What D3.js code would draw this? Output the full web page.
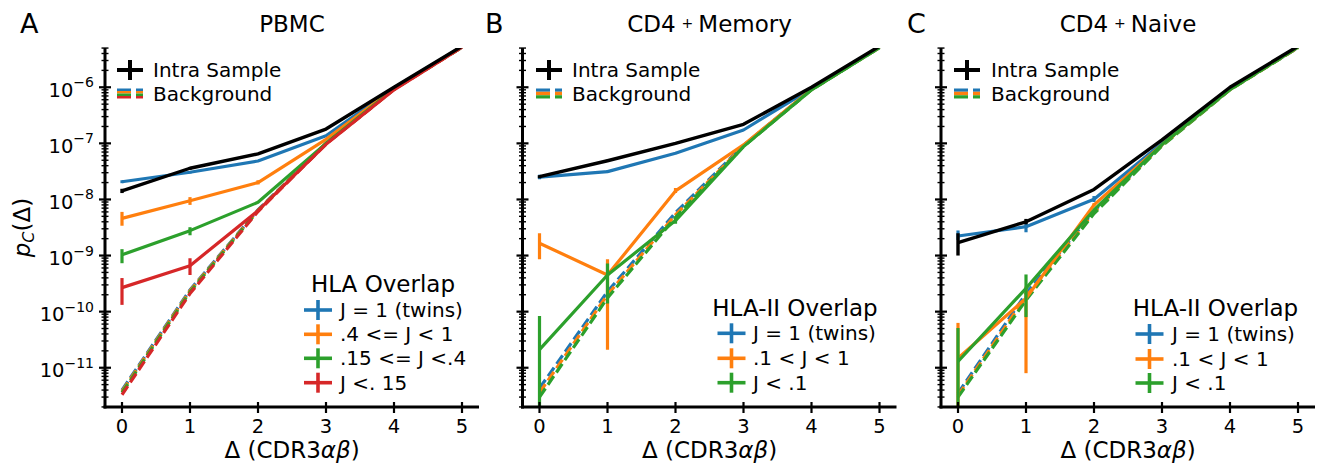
<!DOCTYPE html>
<html>
<head>
<meta charset="utf-8">
<script src="https://cdn.jsdelivr.net/npm/d3@7"></script>
<style>
  body { margin: 0; background: #fff; }
  svg { font-family: "DejaVu Sans", sans-serif; }
</style>
</head>
<body>
<div id="chart-area"></div>
<script>
// x values and y ticks
const deltas = [0, 1, 2, 3, 4, 5];
const yTickValues = [1e-11, 1e-10, 1e-9, 1e-8, 1e-7, 1e-6];
const colours = ["#1f77b4", "#ff7f0e", "#2ca02c", "#d62728"];

// A: PBMC
const pbmcLabels = ["J = 1 (twins)", ".4 <= J < 1", ".15 <= J <.4", "J <. 15"];
const pbmcIntra = [1.42e-8, 3.6e-8, 6.5e-8, 1.8e-7, 1.0e-6, 5.4e-6];
const pbmcIntraErr = [[1.3e-8, 1.55e-8], [3.4e-8, 3.8e-8], null, null, null, null];
const pbmcTwins = [2.07e-8, 3.05e-8, 4.85e-8, 1.37e-7, 9.8e-7, 5.3e-6];
const pbmcTwinsErr = [[1.95e-8, 2.2e-8], [2.9e-8, 3.2e-8], null, null, null, null];
const pbmcHigh = [4.6e-9, 9.5e-9, 2.0e-8, 1.18e-7, 9.5e-7, 5.3e-6];
const pbmcHighErr = [[3.4e-9, 6.0e-9], [8.0e-9, 1.1e-8], [1.85e-8, 2.2e-8], null, null, null];
const pbmcMid = [1.03e-9, 2.78e-9, 8.9e-9, 1.0e-7, 9.3e-7, 5.3e-6];
const pbmcMidErr = [[7.3e-10, 1.3e-9], [2.3e-9, 3.2e-9], null, null, null, null];
const pbmcLow = [2.68e-10, 6.6e-10, 6.3e-9, 9.6e-8, 9.0e-7, 5.2e-6];
const pbmcLowErr = [[1.32e-10, 3.97e-10], [4.5e-10, 8.95e-10], null, null, null, null];
const pbmcBgTwins = [4.0e-12, 2.44e-10, 6.5e-9, 1.0e-7, 9.4e-7, 5.2e-6];
const pbmcBgHigh = [3.8e-12, 2.35e-10, 6.4e-9, 1.0e-7, 9.3e-7, 5.2e-6];
const pbmcBgMid = [3.6e-12, 2.25e-10, 6.3e-9, 9.9e-8, 9.2e-7, 5.2e-6];
const pbmcBgLow = [3.3e-12, 2.1e-10, 6.1e-9, 9.7e-8, 9.1e-7, 5.2e-6];

// B: CD4+ Memory
const hla2Labels = ["J = 1 (twins)", ".1 < J < 1", "J < .1"];
const memIntra = [2.55e-8, 4.9e-8, 1.0e-7, 2.19e-7, 1.0e-6, 5.4e-6];
const memIntraErr = [[2.4e-8, 2.7e-8], [4.7e-8, 5.1e-8], null, null, null, null];
const memTwins = [2.5e-8, 3.13e-8, 6.65e-8, 1.73e-7, 9.5e-7, 5.3e-6];
const memTwinsErr = [[2.3e-8, 2.75e-8], [2.95e-8, 3.3e-8], null, null, null, null];
const memMid = [1.66e-9, 4.5e-10, 1.42e-8, 9.4e-8, 9.2e-7, 5.2e-6];
const memMidErr = [[8.6e-10, 2.5e-9], [2.1e-11, 8.6e-10], [1.3e-8, 1.6e-8], null, null, null];
const memLow = [2.1e-11, 4.5e-10, 4.2e-9, 8.75e-8, 9.0e-7, 5.1e-6];
const memLowErr = [[1e-12, 8.4e-11], [1.4e-10, 7.2e-10], [3.7e-9, 4.8e-9], null, null, null];
const memBgTwins = [4.3e-12, 2.28e-10, 5.8e-9, 9.2e-8, 9.2e-7, 5.1e-6];
const memBgMid = [3.6e-12, 2.0e-10, 5.3e-9, 9.0e-8, 9.1e-7, 5.1e-6];
const memBgLow = [3.0e-12, 1.76e-10, 4.8e-9, 8.8e-8, 9.0e-7, 5.1e-6];

// C: CD4+ Naive
const naiveIntra = [1.7e-9, 4.0e-9, 1.51e-8, 1.15e-7, 1.0e-6, 5.4e-6];
const naiveIntraErr = [[1.0e-9, 2.5e-9], [3.6e-9, 4.5e-9], null, null, null, null];
const naiveTwins = [2.23e-9, 3.27e-9, 1.01e-8, 1.0e-7, 9.5e-7, 5.3e-6];
const naiveTwinsErr = [[1.9e-9, 2.8e-9], [2.6e-9, 4.1e-9], [9e-9, 1.15e-8], null, null, null];
const naiveMid = [1.48e-11, 1.73e-10, 8.0e-9, 9.5e-8, 9.2e-7, 5.2e-6];
const naiveMidErr = [[1e-12, 6.3e-11], [8e-12, 2.8e-10], [7.5e-9, 8.6e-9], null, null, null];
const naiveLow = [1.29e-11, 2.6e-10, 6.5e-9, 9.5e-8, 9.1e-7, 5.2e-6];
const naiveLowErr = [[1e-12, 5.1e-11], [8.0e-11, 4.6e-10], null, null, null, null];
const naiveBgTwins = [3.5e-12, 2.1e-10, 6.2e-9, 9.4e-8, 9.2e-7, 5.1e-6];
const naiveBgMid = [3.2e-12, 1.85e-10, 5.9e-9, 9.2e-8, 9.1e-7, 5.1e-6];
const naiveBgLow = [3.0e-12, 1.6e-10, 5.6e-9, 9.0e-8, 9.0e-7, 5.1e-6];

const width = 1323;
const height = 466;
const plotTop = 48, plotBottom = 407;
const lw = 3.2;

const svg = d3.select("#chart-area")
    .append("svg")
    .attr("width", width)
    .attr("height", height);

const y = d3.scaleLog().domain([Math.pow(10, -11.7), Math.pow(10, -5.3)]).range([plotBottom, plotTop]);

const panels = [
    {
        id: "a", letter: "A", letterX: 20, left: 105, title: ["PBMC"],
        intra: pbmcIntra, intraErr: pbmcIntraErr,
        groups: [pbmcTwins, pbmcHigh, pbmcMid, pbmcLow],
        errs: [pbmcTwinsErr, pbmcHighErr, pbmcMidErr, pbmcLowErr],
        bgs: [pbmcBgTwins, pbmcBgHigh, pbmcBgMid, pbmcBgLow],
        labels: pbmcLabels, legendTitle: "HLA Overlap",
        legTitleX: 383, legTitleY: 292, legMarkX: 318, legTextX: 340, legRows: [310, 334.3, 358.3, 382.7],
        topMarkX: 130, topTextX: 153, yLabels: true
    },
    {
        id: "b", letter: "B", letterX: 485, left: 522.5, title: ["CD4", "+", "Memory"],
        intra: memIntra, intraErr: memIntraErr,
        groups: [memTwins, memMid, memLow],
        errs: [memTwinsErr, memMidErr, memLowErr],
        bgs: [memBgTwins, memBgMid, memBgLow],
        labels: hla2Labels, legendTitle: "HLA-II Overlap",
        legTitleX: 795, legTitleY: 316, legMarkX: 731.5, legTextX: 753, legRows: [333.3, 358.3, 382.7],
        topMarkX: 549, topTextX: 572, yLabels: false
    },
    {
        id: "c", letter: "C", letterX: 907, left: 941, title: ["CD4", "+", "Naive"],
        intra: naiveIntra, intraErr: naiveIntraErr,
        groups: [naiveTwins, naiveMid, naiveLow],
        errs: [naiveTwinsErr, naiveMidErr, naiveLowErr],
        bgs: [naiveBgTwins, naiveBgMid, naiveBgLow],
        labels: hla2Labels, legendTitle: "HLA-II Overlap",
        legTitleX: 1215.5, legTitleY: 316, legMarkX: 1149.5, legTextX: 1172, legRows: [334, 359, 383],
        topMarkX: 967, topTextX: 991, yLabels: false
    }
];

const line = (x) => d3.line()
    .x((d, i) => x(deltas[i]))
    .y((d) => y(d));

panels.forEach((p) => {
    const x = d3.scaleLinear().domain([-0.25, 5.25]).range([p.left, p.left + 374]);
    const g = svg.append("g");

    svg.append("clipPath").attr("id", "clip-" + p.id)
        .append("rect")
        .attr("x", p.left).attr("y", plotTop)
        .attr("width", 374).attr("height", plotBottom - plotTop);

    const plot = g.append("g").attr("clip-path", "url(#clip-" + p.id + ")");

    // background dashed lines
    p.bgs.forEach((bg, i) => {
        plot.append("path")
            .datum(bg)
            .attr("d", line(x))
            .attr("fill", "none")
            .attr("stroke", colours[i])
            .attr("stroke-width", lw)
            .attr("stroke-dasharray", "10.4,4.5");
    });

    // groups with error bars
    p.groups.forEach((vals, i) => {
        plot.append("path")
            .datum(vals)
            .attr("d", line(x))
            .attr("fill", "none")
            .attr("stroke", colours[i])
            .attr("stroke-width", lw)
            .attr("stroke-linejoin", "round");
        plot.selectAll(null)
            .data(p.errs[i].map((e, j) => ({ e: e, x: deltas[j] })).filter((d) => d.e))
            .enter()
            .append("line")
            .attr("x1", (d) => x(d.x)).attr("x2", (d) => x(d.x))
            .attr("y1", (d) => y(d.e[0])).attr("y2", (d) => y(d.e[1]))
            .attr("stroke", colours[i])
            .attr("stroke-width", lw);
    });

    // intra sample (black)
    plot.append("path")
        .datum(p.intra)
        .attr("d", line(x))
        .attr("fill", "none")
        .attr("stroke", "black")
        .attr("stroke-width", lw + 0.2)
        .attr("stroke-linejoin", "round");
    plot.selectAll(null)
        .data(p.intraErr.map((e, j) => ({ e: e, x: deltas[j] })).filter((d) => d.e))
        .enter()
        .append("line")
        .attr("x1", (d) => x(d.x)).attr("x2", (d) => x(d.x))
        .attr("y1", (d) => y(d.e[0])).attr("y2", (d) => y(d.e[1]))
        .attr("stroke", "black")
        .attr("stroke-width", lw + 0.2);

    /** Axes */
    const minor = [];
    for (let k = -12; k <= -6; k++) {
        for (let m = 2; m <= 9; m++) {
            const v = m * Math.pow(10, k);
            if (v > y.domain()[0] && v < y.domain()[1]) minor.push(v);
        }
    }
    g.selectAll(null).data(minor).enter().append("line")
        .attr("x1", p.left - 3.5).attr("x2", p.left + 3.5)
        .attr("y1", (d) => y(d)).attr("y2", (d) => y(d))
        .attr("stroke", "black").attr("stroke-width", 1.4);
    g.selectAll(null).data(yTickValues).enter().append("line")
        .attr("x1", p.left - 6).attr("x2", p.left + 6)
        .attr("y1", (d) => y(d)).attr("y2", (d) => y(d))
        .attr("stroke", "black").attr("stroke-width", 2.2);

    if (p.yLabels) {
        const lab = g.selectAll(null).data(yTickValues).enter().append("text")
            .attr("x", p.left - 11)
            .attr("y", (d) => y(d) + 9.4)
            .attr("text-anchor", "end")
            .attr("font-size", "19.5px");
        lab.append("tspan").text("10");
        lab.append("tspan")
            .attr("dy", -9.4)
            .attr("font-size", "14px")
            .text((d) => "\u2212" + Math.round(-Math.log10(d)));

        const yl = g.append("text")
            .attr("transform", "translate(30," + ((plotTop + plotBottom) / 2) + ") rotate(-90)")
            .attr("text-anchor", "middle")
            .attr("font-size", "23px");
        yl.append("tspan").attr("font-style", "italic").text("p");
        yl.append("tspan").attr("font-style", "italic").attr("font-size", "16px").attr("dy", 4).text("C");
        yl.append("tspan").attr("dy", -4).text("(\u0394)");
    }

    g.selectAll(null).data(deltas).enter().append("line")
        .attr("x1", (d) => x(d)).attr("x2", (d) => x(d))
        .attr("y1", plotBottom - 5).attr("y2", plotBottom + 6)
        .attr("stroke", "black").attr("stroke-width", 2.2);
    g.selectAll(null).data(deltas).enter().append("text")
        .attr("x", (d) => x(d))
        .attr("y", 433)
        .attr("text-anchor", "middle")
        .attr("font-size", "19.5px")
        .text((d) => d);

    // spines
    g.append("line").attr("x1", p.left).attr("x2", p.left).attr("y1", plotTop).attr("y2", plotBottom + 1.5)
        .attr("stroke", "black").attr("stroke-width", 3);
    g.append("line").attr("x1", p.left - 1.5).attr("x2", p.left + 374).attr("y1", plotBottom).attr("y2", plotBottom)
        .attr("stroke", "black").attr("stroke-width", 3);

    const xl = g.append("text")
        .attr("x", p.left + 187)
        .attr("y", 458)
        .attr("text-anchor", "middle")
        .attr("font-size", "23px");
    xl.append("tspan").text("\u0394 (CDR3");
    xl.append("tspan").attr("font-style", "italic").text("\u03b1\u03b2");
    xl.append("tspan").text(")");

    /** Titles */
    g.append("text").attr("x", p.letterX).attr("y", 33).attr("font-size", "27px").text(p.letter);
    const t = g.append("text")
        .attr("x", p.left + 187)
        .attr("y", 31.5)
        .attr("text-anchor", "middle")
        .attr("font-size", "23px");
    if (p.title.length === 1) {
        t.text(p.title[0]);
    } else {
        t.append("tspan").text(p.title[0]);
        t.append("tspan").attr("font-size", "14px").attr("dx", 6).attr("dy", -4).text(p.title[1]);
        t.append("tspan").attr("dx", 5).attr("dy", 4).text(p.title[2]);
    }

    /** Legends */
    const mx = p.topMarkX;
    g.append("line").attr("x1", mx - 13).attr("x2", mx + 13).attr("y1", 70).attr("y2", 70)
        .attr("stroke", "black").attr("stroke-width", 4);
    g.append("line").attr("x1", mx).attr("x2", mx).attr("y1", 60).attr("y2", 80)
        .attr("stroke", "black").attr("stroke-width", 4);
    g.append("text").attr("x", p.topTextX).attr("y", 77).attr("font-size", "20px").text("Intra Sample");
    const sh = 10 / p.bgs.length;
    p.bgs.forEach((bg, i) => {
        g.append("line")
            .attr("x1", mx - 13).attr("x2", mx + 13)
            .attr("y1", 88.5 + sh * (i + 0.5)).attr("y2", 88.5 + sh * (i + 0.5))
            .attr("stroke", colours[i])
            .attr("stroke-width", sh)
            .attr("stroke-dasharray", "14,5");
    });
    g.append("text").attr("x", p.topTextX).attr("y", 101).attr("font-size", "20px").text("Background");

    g.append("text").attr("x", p.legTitleX).attr("y", p.legTitleY)
        .attr("text-anchor", "middle").attr("font-size", "23px").text(p.legendTitle);
    p.labels.forEach((lab, i) => {
        const cy = p.legRows[i];
        g.append("line").attr("x1", p.legMarkX - 14).attr("x2", p.legMarkX + 14).attr("y1", cy).attr("y2", cy)
            .attr("stroke", colours[i]).attr("stroke-width", 3.6);
        g.append("line").attr("x1", p.legMarkX).attr("x2", p.legMarkX).attr("y1", cy - 10).attr("y2", cy + 10)
            .attr("stroke", colours[i]).attr("stroke-width", 3.6);
        g.append("text").attr("x", p.legTextX).attr("y", cy + 7).attr("font-size", "20px").text(lab);
    });
});
</script>
</body>
</html>
